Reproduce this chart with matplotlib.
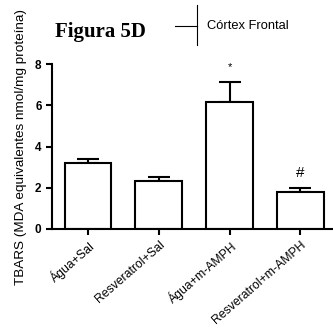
import numpy as np
import matplotlib.pyplot as plt

groups = ['Água+Sal', 'Resveratrol+Sal', 'Água+m-AMPH', 'Resveratrol+m-AMPH']
means = [3.22, 2.33, 6.15, 1.78]
errors = [0.19, 0.18, 1.0, 0.22]
marks = ['', '', '*', '#']

plt.rcParams['font.family'] = ['Liberation Sans', 'DejaVu Sans']

fig = plt.figure(figsize=(3.33, 3.29), dpi=100)
ax = fig.add_axes([0.156, 0.304, 0.844, 0.501])

x = np.arange(len(groups))
ax.bar(x, means, width=0.66, color='white', edgecolor='black', linewidth=1.5, zorder=2)
ax.errorbar(x, means, yerr=[np.zeros(len(errors)), errors], fmt='none',
            ecolor='black', elinewidth=1.5, capsize=8, capthick=1.5, zorder=1)

# significance marks above the error bars
for xi, m, e, s in zip(x, means, errors, marks):
    if s == '*':
        ax.text(xi, m + e + 0.45, s, ha='center', va='bottom', fontsize=8)
    elif s == '#':
        ax.text(xi, m + e + 0.4, s, ha='center', va='bottom', fontsize=11)

ax.set_xlim(-0.51, 3.46)
ax.set_ylim(0, 8)
ax.set_yticks([0, 2, 4, 6, 8])
ax.set_yticklabels(['0', '2', '4', '6', '8'], fontweight='bold', fontsize=8.5)
ax.set_xticks(x)
ax.set_xticklabels(groups, rotation=41, ha='right', rotation_mode='anchor', fontsize=8.8)
ax.set_ylabel('TBARS (MDA equivalentes nmol/mg proteína)', fontsize=9.7, labelpad=6)

ax.spines['top'].set_visible(False)
ax.spines['right'].set_visible(False)
ax.spines['left'].set_linewidth(1.5)
ax.spines['bottom'].set_linewidth(1.5)
ax.tick_params(width=1.5, length=4)
ax.tick_params(axis='x', pad=3)

fig.text(55 / 333, 1 - 32 / 329, 'Figura 5D', fontsize=15, fontweight='bold',
         family='Liberation Serif', va='center', ha='left')
fig.add_artist(plt.Line2D([175 / 333, 197 / 333], [1 - 26 / 329, 1 - 26 / 329], color='black', lw=0.8))
fig.add_artist(plt.Line2D([197 / 333, 197 / 333], [1 - 5 / 329, 1 - 45 / 329], color='black', lw=0.8))
fig.text(207 / 333, 1 - 26 / 329, 'Córtex Frontal', fontsize=9.3, va='center', ha='left')

fig.savefig('out.png', dpi=100)
